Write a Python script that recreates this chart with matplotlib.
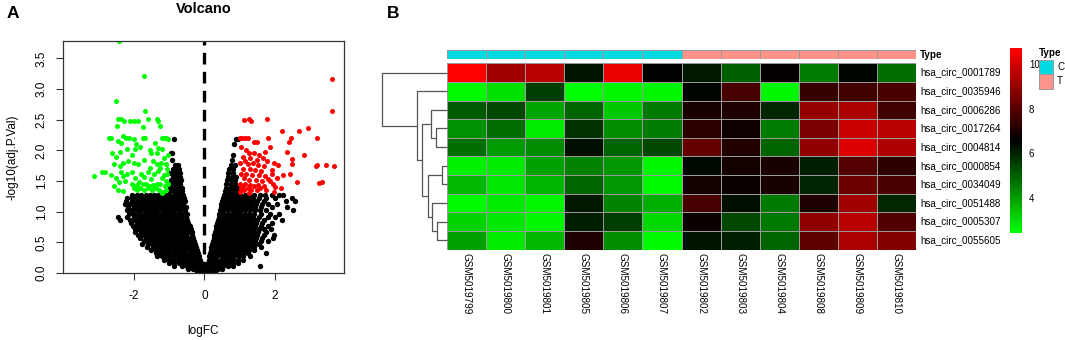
import matplotlib
matplotlib.use("Agg")
import matplotlib.pyplot as plt
import numpy as np
from matplotlib.colors import LinearSegmentedColormap, ListedColormap
from matplotlib.patches import Rectangle

plt.rcParams["font.family"] = ["Liberation Sans", "DejaVu Sans"]
plt.rcParams["axes.unicode_minus"] = False

# --- panel A: volcano (logFC, -log10 adj.P) ----------------------------------
green_pts = [
    (-2.42, 3.78), (-1.71, 3.21), (-2.49, 2.81), (-1.69, 2.64),
    (-2.45, 2.51), (-2.35, 2.51), (-2.28, 2.48), (-2.10, 2.48), (-2.00, 2.48),
    (-1.88, 2.48), (-1.60, 2.51), (-1.33, 2.51), (-1.30, 2.48), (-1.25, 2.40),
    (-2.47, 2.40), (-1.75, 2.38),
    (-2.70, 2.20), (-2.63, 2.20), (-2.45, 2.16), (-2.30, 2.24), (-2.22, 2.20),
    (-2.12, 2.20), (-1.98, 2.18), (-1.75, 2.20), (-1.68, 2.20), (-1.20, 2.20),
    (-1.15, 2.20), (-1.08, 2.20), (-1.02, 2.18), (-2.35, 2.12), (-1.93, 2.10),
    (-1.40, 2.12),
    (-2.60, 1.96), (-2.40, 1.98), (-2.20, 2.03), (-1.95, 2.02), (-1.82, 2.05),
    (-1.55, 2.00), (-1.30, 2.04), (-1.20, 2.03), (-2.50, 1.90), (-2.05, 1.92),
    (-1.50, 1.95), (-1.35, 1.95), (-1.03, 1.92), (-1.15, 1.88),
    (-2.55, 1.78), (-2.30, 1.80), (-2.15, 1.82), (-1.98, 1.80), (-1.88, 1.78),
    (-1.70, 1.85), (-1.45, 1.82), (-1.35, 1.78), (-1.22, 1.80), (-1.10, 1.78),
    (-2.40, 1.74), (-1.55, 1.72), (-1.25, 1.72), (-1.05, 1.70),
    (-2.90, 1.64), (-2.82, 1.64), (-2.65, 1.60), (-2.35, 1.65), (-2.20, 1.62),
    (-2.05, 1.65), (-1.80, 1.62), (-1.60, 1.65), (-1.42, 1.62), (-1.30, 1.66),
    (-1.15, 1.60), (-1.05, 1.62),
    (-3.12, 1.58), (-2.50, 1.55), (-2.30, 1.58), (-1.95, 1.55), (-1.72, 1.56),
    (-1.50, 1.54), (-1.20, 1.55), (-1.08, 1.50),
    (-2.55, 1.42), (-2.42, 1.48), (-2.25, 1.50), (-2.05, 1.46), (-1.90, 1.44),
    (-1.85, 1.48), (-1.75, 1.45), (-1.65, 1.46), (-1.55, 1.42), (-1.45, 1.44),
    (-1.35, 1.46), (-1.25, 1.45), (-1.12, 1.42), (-1.02, 1.45),
    (-2.45, 1.35), (-2.00, 1.38), (-1.92, 1.36), (-1.82, 1.38), (-1.70, 1.35),
    (-1.60, 1.38), (-1.48, 1.35), (-1.38, 1.38), (-1.28, 1.36), (-1.18, 1.32),
    (-1.10, 1.36), (-2.30, 1.33), (-1.20, 1.31),
]

red_pts = [
    (3.61, 3.16), (3.61, 2.64), (1.13, 2.50), (1.27, 2.52), (1.31, 2.48),
    (1.76, 2.52), (2.92, 2.36), (2.69, 2.32), (2.21, 2.32), (3.18, 2.21),
    (2.45, 2.21), (2.38, 2.14), (1.02, 2.21), (1.07, 2.21), (1.14, 2.21),
    (1.22, 2.21), (1.41, 2.14), (1.50, 2.14), (1.79, 2.21), (2.83, 1.92),
    (2.34, 1.97), (2.47, 1.86), (2.47, 1.78), (3.17, 1.74), (3.19, 1.76),
    (3.44, 1.77), (3.68, 1.74), (3.33, 1.48), (3.25, 1.47), (2.62, 1.48),
    (2.43, 1.62), (2.22, 1.60), (2.17, 1.39), (1.96, 1.32), (1.98, 1.80),
    (2.07, 1.77), (1.69, 1.74), (1.60, 1.66), (1.79, 1.53),
    (1.05, 2.05), (1.18, 2.00), (1.25, 1.96), (1.40, 1.95), (1.55, 1.92),
    (1.72, 1.98), (1.85, 2.05), (1.10, 1.90), (1.30, 1.88), (1.48, 1.85),
    (1.65, 1.88), (1.02, 1.80), (1.15, 1.82), (1.22, 1.78), (1.38, 1.80),
    (1.52, 1.76), (1.78, 1.82), (1.08, 1.70), (1.28, 1.70), (1.42, 1.68),
    (1.90, 1.68), (1.05, 1.62), (1.18, 1.62), (1.35, 1.60), (1.55, 1.60),
    (1.72, 1.58), (1.12, 1.55), (1.25, 1.52), (1.45, 1.52), (1.62, 1.50),
    (1.85, 1.50), (1.02, 1.45), (1.15, 1.45), (1.30, 1.44), (1.40, 1.42),
    (1.52, 1.44), (1.68, 1.42), (1.95, 1.45), (1.05, 1.38), (1.12, 1.36),
    (1.22, 1.38), (1.32, 1.35), (1.48, 1.36), (1.58, 1.38), (1.75, 1.36),
    (1.02, 1.32), (1.25, 1.31), (1.08, 1.42), (2.05, 1.55), (1.90, 1.62),
    (2.00, 1.40),
]

# not-significant points, one row of logFC values per -log10 level
black_rows = [
    (0.02, [-0.22, -0.12, -0.04, 0.04, 0.12, 0.22, 0.30]),
    (0.07, [-0.45, -0.33, -0.22, -0.12, -0.05, 0.05, 0.14, 0.26, 0.38, 0.50]),
    (0.12, [-0.86, -0.62, -0.50, -0.39, -0.28, -0.17, -0.08, 0.08, 0.18, 0.30,
            0.42, 0.54, 0.66, 0.80, 1.57]),
    (0.17, [-1.00, -0.85, -0.73, -0.62, -0.50, -0.39, -0.28, -0.18, -0.10, 0.10,
            0.20, 0.32, 0.44, 0.56, 0.68, 0.80, 0.95]),
    (0.22, [-1.15, -1.00, -0.88, -0.76, -0.64, -0.52, -0.41, -0.30, -0.20, -0.12,
            0.12, 0.22, 0.34, 0.46, 0.58, 0.70, 0.82, 0.94, 1.08]),
    (0.27, [-1.33, -1.20, -1.08, -0.96, -0.84, -0.72, -0.60, -0.48, -0.37, -0.26,
            -0.15, 0.14, 0.25, 0.37, 0.49, 0.61, 0.73, 0.85, 0.97, 1.10, 1.30]),
    (0.32, [-1.38, -1.26, -1.14, -1.02, -0.90, -0.78, -0.66, -0.54, -0.42, -0.30,
            -0.18, 0.16, 0.27, 0.39, 0.51, 0.63, 0.75, 0.87, 0.99, 1.11, 1.24, 1.75]),
    (0.37, [-1.50, -1.38, -1.26, -1.14, -1.02, -0.90, -0.78, -0.66, -0.54, -0.42,
            -0.30, -0.20, 0.18, 0.30, 0.42, 0.54, 0.66, 0.78, 0.90, 1.02, 1.14,
            1.26, 1.40]),
    (0.42, [-1.62, -1.45, -1.33, -1.21, -1.09, -0.97, -0.85, -0.73, -0.61, -0.49,
            -0.37, -0.24, 0.20, 0.32, 0.44, 0.56, 0.68, 0.80, 0.92, 1.04, 1.16,
            1.28, 1.40, 1.60]),
    (0.47, [-1.76, -1.60, -1.48, -1.36, -1.24, -1.12, -1.00, -0.88, -0.76, -0.64,
            -0.52, -0.40, -0.27, 0.22, 0.34, 0.46, 0.58, 0.70, 0.82, 0.94, 1.06,
            1.18, 1.30, 1.42, 1.55]),
    (0.52, [-1.70, -1.58, -1.46, -1.34, -1.22, -1.10, -0.98, -0.86, -0.74, -0.62,
            -0.50, -0.38, -0.28, 0.24, 0.36, 0.48, 0.60, 0.72, 0.84, 0.96, 1.08,
            1.20, 1.32, 1.44, 1.60, 1.80]),
    (0.57, [-1.82, -1.66, -1.54, -1.42, -1.30, -1.18, -1.06, -0.94, -0.82, -0.70,
            -0.58, -0.46, -0.32, 0.26, 0.38, 0.50, 0.62, 0.74, 0.86, 0.98, 1.10,
            1.22, 1.34, 1.46, 1.62, 1.95]),
    (0.62, [-1.88, -1.74, -1.60, -1.48, -1.36, -1.24, -1.12, -1.00, -0.88, -0.76,
            -0.64, -0.52, -0.35, 0.28, 0.40, 0.52, 0.64, 0.76, 0.88, 1.00, 1.12,
            1.24, 1.36, 1.50, 1.70, 1.98]),
    (0.67, [-1.95, -1.80, -1.66, -1.54, -1.42, -1.30, -1.18, -1.06, -0.94, -0.82,
            -0.70, -0.58, -0.46, -0.36, 0.30, 0.42, 0.54, 0.66, 0.78, 0.90, 1.02,
            1.14, 1.26, 1.38, 1.52, 1.75]),
    (0.72, [-1.95, -1.84, -1.70, -1.58, -1.46, -1.34, -1.22, -1.10, -0.98, -0.86,
            -0.74, -0.62, -0.50, -0.38, 0.32, 0.44, 0.56, 0.68, 0.80, 0.92, 1.04,
            1.16, 1.28, 1.40, 1.55, 1.70, 1.88]),
    (0.77, [-2.02, -1.88, -1.74, -1.62, -1.50, -1.38, -1.26, -1.14, -1.02, -0.90,
            -0.78, -0.66, -0.54, -0.42, 0.34, 0.46, 0.58, 0.70, 0.82, 0.94, 1.06,
            1.18, 1.30, 1.44, 1.60, 1.80]),
    (0.82, [-2.08, -1.92, -1.78, -1.66, -1.54, -1.42, -1.30, -1.18, -1.06, -0.94,
            -0.82, -0.70, -0.58, -0.45, 0.36, 0.48, 0.60, 0.72, 0.84, 0.96, 1.08,
            1.20, 1.32, 1.46, 1.64, 1.90]),
    (0.87, [-2.38, -2.10, -1.96, -1.82, -1.70, -1.58, -1.46, -1.34, -1.22, -1.10,
            -0.98, -0.86, -0.74, -0.62, -0.48, 0.38, 0.50, 0.62, 0.74, 0.86, 0.98,
            1.10, 1.22, 1.34, 1.50, 1.70, 2.20]),
    (0.92, [-2.45, -2.18, -2.00, -1.86, -1.74, -1.62, -1.50, -1.38, -1.26, -1.14,
            -1.02, -0.90, -0.78, -0.66, -0.52, 0.40, 0.52, 0.64, 0.76, 0.88, 1.00,
            1.12, 1.24, 1.38, 1.55, 1.80, 2.00]),
    (0.97, [-2.12, -1.98, -1.84, -1.72, -1.60, -1.48, -1.36, -1.24, -1.12, -1.00,
            -0.88, -0.76, -0.64, -0.50, 0.42, 0.54, 0.66, 0.78, 0.90, 1.02, 1.14,
            1.26, 1.40, 1.60, 1.85, 2.10]),
    (1.02, [-2.20, -2.04, -1.90, -1.78, -1.66, -1.54, -1.42, -1.30, -1.18, -1.06,
            -0.94, -0.82, -0.70, -0.55, 0.44, 0.56, 0.68, 0.80, 0.92, 1.04, 1.16,
            1.28, 1.42, 1.58, 1.75, 2.50]),
    (1.07, [-2.16, -2.00, -1.86, -1.74, -1.62, -1.50, -1.38, -1.26, -1.14, -1.02,
            -0.90, -0.78, -0.66, -0.52, 0.46, 0.58, 0.70, 0.82, 0.94, 1.06, 1.18,
            1.30, 1.44, 1.60, 1.90, 2.35]),
    (1.12, [-2.26, -2.10, -1.95, -1.82, -1.70, -1.58, -1.46, -1.34, -1.22, -1.10,
            -0.98, -0.86, -0.74, -0.60, 0.48, 0.60, 0.72, 0.84, 0.96, 1.08, 1.20,
            1.32, 1.46, 1.62, 1.80, 2.05]),
    (1.17, [-2.22, -2.06, -1.92, -1.78, -1.66, -1.54, -1.42, -1.30, -1.18, -1.06,
            -0.94, -0.82, -0.70, -0.56, 0.50, 0.62, 0.74, 0.86, 0.98, 1.10, 1.22,
            1.34, 1.50, 1.70, 2.30, 2.55]),
    (1.22, [-2.20, -2.04, -1.90, -1.76, -1.64, -1.52, -1.40, -1.28, -1.16, -1.04,
            -0.92, -0.80, -0.68, -0.58, 0.52, 0.64, 0.76, 0.88, 1.00, 1.12, 1.24,
            1.38, 1.55, 1.75, 2.00, 2.48]),
    (1.27, [-2.05, -1.90, -1.78, -1.66, -1.54, -1.42, -1.30, -1.18, -1.06, -0.96,
            -0.84, -0.72, -0.60, 0.55, 0.66, 0.78, 0.90, 1.02, 1.14, 1.26, 1.40,
            1.56, 1.72, 1.90, 2.10, 2.22]),
    (1.33, [-0.98, -0.86, -0.74, -0.62, 0.58, 0.70, 0.82, 0.94]),
    (1.39, [-0.96, -0.84, -0.72, -0.62, 0.60, 0.72, 0.84, 0.96]),
    (1.45, [-0.92, -0.80, -0.70, 0.62, 0.74, 0.86]),
    (1.51, [-0.95, -0.84, -0.74, -0.66, 0.63, 0.75, 0.87]),
    (1.57, [-0.90, -0.80, -0.70, 0.66, 0.78, 0.90]),
    (1.63, [-0.96, -0.85, -0.76, -0.70, 0.68, 0.80]),
    (1.70, [-0.90, -0.80, -0.72, 0.70, 0.82]),
    (1.76, [-0.82, -0.74, 0.74, 0.86]),
    (1.85, [-0.92, 0.78]),
    (1.92, [0.80]),
    (1.95, [-0.95, -0.92]),
    (2.10, [0.85]),
    (2.19, [-0.85, 0.90, 0.95]),
]

# --- panel B: heatmap -------------------------------------------------------
genes = ["hsa_circ_0001789", "hsa_circ_0035946", "hsa_circ_0006286",
         "hsa_circ_0017264", "hsa_circ_0004814", "hsa_circ_0000854",
         "hsa_circ_0034049", "hsa_circ_0051488", "hsa_circ_0005307",
         "hsa_circ_0055605"]
samples = ["GSM5019799", "GSM5019800", "GSM5019801", "GSM5019805",
           "GSM5019806", "GSM5019807", "GSM5019802", "GSM5019803",
           "GSM5019804", "GSM5019808", "GSM5019809", "GSM5019810"]
sample_type = ["C"] * 6 + ["T"] * 6
expr = [
    [10.72, 9.17, 9.58, 6.23, 10.39, 6.56, 6.15, 5.01, 6.64, 4.52, 6.48, 4.77],
    [2.48, 2.89, 5.58, 2.40, 2.56, 2.56, 6.48, 7.70, 2.56, 7.46, 7.62, 7.78],
    [5.09, 5.42, 3.87, 4.93, 3.30, 4.60, 6.97, 7.05, 5.91, 9.01, 9.33, 7.62],
    [4.19, 4.77, 2.73, 5.74, 4.28, 4.52, 7.29, 6.80, 4.52, 8.52, 9.82, 9.58],
    [4.77, 4.03, 4.28, 6.32, 4.93, 5.42, 8.19, 7.13, 4.93, 8.93, 10.15, 9.41],
    [2.64, 2.73, 3.95, 4.44, 4.11, 2.56, 6.40, 6.89, 6.97, 6.07, 7.95, 7.29],
    [3.54, 2.81, 3.62, 4.93, 4.11, 2.48, 6.89, 6.72, 6.97, 5.99, 8.35, 7.78],
    [2.48, 2.73, 2.56, 6.15, 4.44, 3.71, 7.70, 6.32, 4.60, 7.05, 9.17, 5.91],
    [3.13, 2.81, 2.56, 6.07, 5.58, 3.05, 6.72, 5.42, 4.60, 8.93, 9.58, 7.87],
    [3.95, 2.73, 3.54, 7.05, 4.28, 2.48, 6.23, 6.07, 4.93, 8.11, 9.33, 8.68],
]
# row dendrogram merges: (left id, right id, height); new clusters get ids 10, 11, ...
row_links = [(3, 4, 1.13), (2, 10, 1.63), (5, 6, 0.47), (8, 9, 1.03), (7, 13, 1.53),
             (12, 14, 1.87), (11, 15, 2.47), (1, 16, 3.03), (0, 17, 6.53)]
type_colors = {"C": "#00DAE0", "T": "#FF9289"}

W, H = 1065, 340
fig = plt.figure(figsize=(W / 100, H / 100), dpi=100)


def px_axes(x0, y0, x1, y1):
    """Axes placed by pixel box (top-left origin)."""
    return fig.add_axes([x0 / W, 1 - y1 / H, (x1 - x0) / W, (y1 - y0) / H])


# volcano
ax = px_axes(63, 41, 344, 273)
bx = [x for y, xs in black_rows for x in xs]
by = [y for y, xs in black_rows for x in xs]
ax.scatter(bx, by, s=15, color="black", linewidths=0)
ax.scatter([p[0] for p in green_pts], [p[1] for p in green_pts], s=13,
           color="#00FF00", linewidths=0)
ax.scatter([p[0] for p in red_pts], [p[1] for p in red_pts], s=13,
           color="#FF0000", linewidths=0)
ax.axvline(0, color="black", lw=2.4, linestyle=(0, (3.5, 2.2)))
ax.set_xlim(-4.0, 3.95)
ax.set_ylim(0, 3.785)
ax.set_xticks([-2, 0, 2])
ax.set_yticks(np.arange(0, 3.6, 0.5))
ax.set_yticklabels([f"{v:.1f}" for v in np.arange(0, 3.6, 0.5)])
ax.tick_params(length=5, width=0.8, color="#333333", labelsize=8.5, pad=7)
ax.tick_params(axis="y", labelrotation=90, pad=6)
for lbl in ax.get_yticklabels():
    lbl.set_va("center")
for sp in ax.spines.values():
    sp.set_color("#333333")
    sp.set_linewidth(0.9)
ax.set_xlabel("logFC", fontsize=8.5, va="center")
ax.xaxis.set_label_coords(0.5, -58 / 232)
ax.set_ylabel("-log10(adj.P.Val)", fontsize=8.5, va="center")
ax.yaxis.set_label_coords(-50 / 281, 0.5)
ax.text(0.5, 1 + 32 / 232, "Volcano", transform=ax.transAxes, ha="center",
        va="center", fontsize=10.5, weight="bold")

fig.text(13 / W, 1 - 13 / H, "A", ha="center", va="center", fontsize=12.5, weight="bold")
fig.text(393 / W, 1 - 13 / H, "B", ha="center", va="center", fontsize=12.5, weight="bold")

# heatmap
vals = np.array(expr)
cmap = LinearSegmentedColormap.from_list("gbr", ["#00FF00", "#000000", "#FF0000"])
hm = px_axes(447, 63.3, 916, 249.5)
mesh = hm.pcolormesh(vals, cmap=cmap, vmin=vals.min(), vmax=vals.max(),
                     edgecolors="#999999", linewidth=0.7)
hm.set_xlim(0, len(samples))
hm.set_ylim(len(genes), 0)
hm.axis("off")
for i, g in enumerate(genes):
    hm.text(len(samples) + 0.1, i + 0.5, g, ha="left", va="center", fontsize=7.1)
for j, s in enumerate(samples):
    hm.text(j + 0.5, len(genes) + 0.2, s, ha="center", va="top", rotation=270,
            fontsize=7.1)

# annotation bar
an = px_axes(447, 50, 916, 59.3)
codes = [[0 if t == "C" else 1 for t in sample_type]]
an.pcolormesh(codes, cmap=ListedColormap([type_colors["C"], type_colors["T"]]),
              vmin=0, vmax=1, edgecolors="#999999", linewidth=0.7)
an.set_xlim(0, len(samples))
an.set_ylim(1, 0)
an.axis("off")
an.text(len(samples) + 0.1, 0.5, "Type", ha="left", va="center", fontsize=7.1,
        weight="bold")

# row dendrogram
dn = px_axes(381.7, 63.3, 447, 249.5)
pos = {i: i + 0.5 for i in range(len(genes))}
hgt = {i: 0.0 for i in range(len(genes))}
for k, (a, b, h) in enumerate(row_links):
    dn.plot([hgt[a], h, h, hgt[b]], [pos[a], pos[a], pos[b], pos[b]],
            color="#555555", lw=0.9, clip_on=False, solid_capstyle="butt")
    pos[len(genes) + k] = (pos[a] + pos[b]) / 2
    hgt[len(genes) + k] = h
dn.set_xlim(max(l[2] for l in row_links), 0)
dn.set_ylim(len(genes), 0)
dn.axis("off")

# colour key
cax = px_axes(1010, 48.3, 1022, 233.3)
cb = fig.colorbar(mesh, cax=cax, ticks=[4, 6, 8, 10])
cb.outline.set_visible(False)
cax.tick_params(length=0, labelsize=7, pad=5)

# type legend
lg = px_axes(1030, 40, 1065, 95)
lg.set_xlim(1030, 1065)
lg.set_ylim(95, 40)
lg.axis("off")
lg.text(1039, 53, "Type", ha="left", va="center", fontsize=7.1, weight="bold")
for n, t in enumerate(["C", "T"]):
    lg.add_patch(Rectangle((1039, 59.5 + n * 14.5), 14, 14.5, facecolor=type_colors[t],
                           edgecolor="#999999", lw=0.7))
    lg.text(1057, 66.5 + n * 14.5, t, ha="left", va="center", fontsize=7.1)

fig.savefig("out.png", dpi=100)
